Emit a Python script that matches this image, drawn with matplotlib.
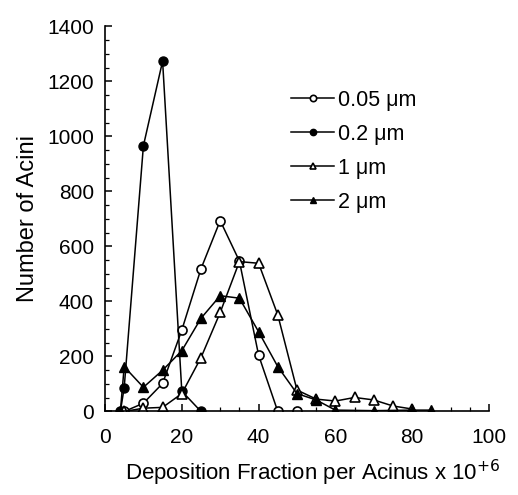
import matplotlib.pyplot as plt
from matplotlib.ticker import MultipleLocator

plt.rcParams['font.family'] = ['Liberation Sans', 'DejaVu Sans']

# data
x_005 = [5, 10, 15, 20, 25, 30, 35, 40, 45, 50]
y_005 = [0, 30, 102, 296, 519, 694, 547, 205, 0, 0]

x_02 = [4, 5, 10, 15, 20, 25]
y_02 = [0, 87, 966, 1274, 74, 0]

x_1 = [5, 10, 15, 20, 25, 30, 35, 40, 45, 50, 55, 60, 65, 70, 75, 80]
y_1 = [0, 12, 15, 65, 196, 360, 545, 539, 351, 78, 45, 38, 51, 42, 20, 9]

x_2 = [4, 5, 10, 15, 20, 25, 30, 35, 40, 45, 50, 55, 60, 70, 80, 85]
y_2 = [0, 163, 88, 150, 221, 339, 421, 412, 290, 163, 65, 42, 5, 3, 5, 5]

fig = plt.figure(figsize=(5.18, 4.95), dpi=100)
ax = fig.add_axes([0.2027, 0.1687, 0.7413, 0.7778])

ms = 6.5
lw = 1.1
ax.plot(x_005, y_005, color='black', lw=lw, marker='o', ms=ms,
        mfc='white', mec='black', mew=1.2, label='0.05 μm')
ax.plot(x_02, y_02, color='black', lw=lw, marker='o', ms=ms,
        mfc='black', mec='black', label='0.2 μm')
ax.plot(x_1, y_1, color='black', lw=lw, marker='^', ms=ms,
        mfc='white', mec='black', mew=1.2, label='1 μm')
ax.plot(x_2, y_2, color='black', lw=lw, marker='^', ms=ms,
        mfc='black', mec='black', label='2 μm')

ax.set_xlim(0, 100)
ax.set_ylim(0, 1400)
ax.xaxis.set_major_locator(MultipleLocator(20))
ax.xaxis.set_minor_locator(MultipleLocator(5))
ax.yaxis.set_major_locator(MultipleLocator(200))
ax.yaxis.set_minor_locator(MultipleLocator(50))

for s in ['top', 'right']:
    ax.spines[s].set_visible(False)
for s in ['left', 'bottom']:
    ax.spines[s].set_linewidth(1.2)

ax.tick_params(which='major', direction='in', length=5, width=1.1,
               labelsize=15)
ax.tick_params(axis='x', which='major', pad=12)
ax.tick_params(axis='y', which='major', pad=8)
ax.tick_params(which='minor', direction='in', length=3, width=0.9)

ax.set_xlabel('Deposition Fraction per Acinus x 10$^{+6}$', fontsize=16)
ax.xaxis.set_label_coords(0.542, -0.12)
ax.set_ylabel('Number of Acini', fontsize=17, labelpad=6)

ax.legend(loc='upper left', bbox_to_anchor=(0.485, 0.835), frameon=False,
          fontsize=15.5, handlelength=2.0, handletextpad=0.15,
          labelspacing=0.6, borderpad=0, borderaxespad=0, markerscale=0.7)

fig.savefig('out.png', dpi=100)
